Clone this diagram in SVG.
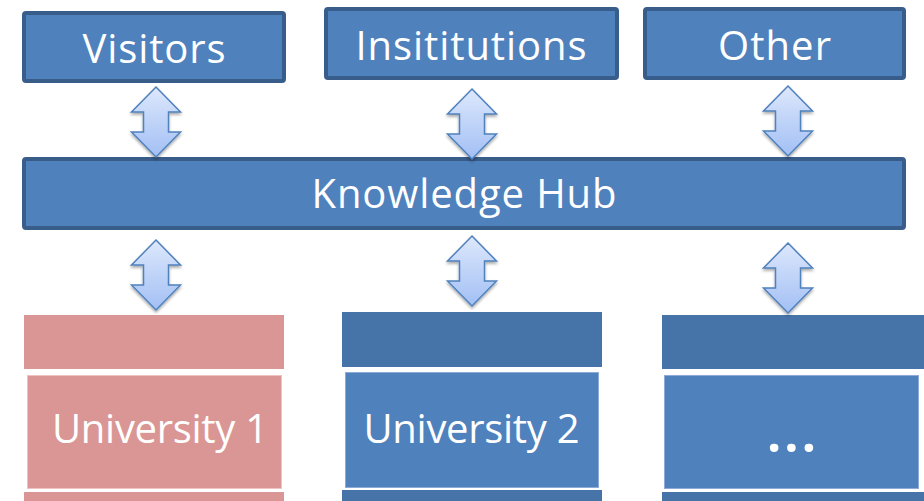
<svg xmlns="http://www.w3.org/2000/svg" width="924" height="501" viewBox="0 0 924 501">
<defs>
<style>
.top{fill:#4f81bd;stroke:#385d8a;stroke-width:4}
.lbl{font-family:"Open Sans","Noto Sans",sans-serif;font-size:40px;fill:#ffffff;text-anchor:middle}
.band{fill:#4674a9}
.mid{fill:#4f81bd;stroke:#8eaad8;stroke-width:1}
.pband{fill:#d99694}
.pmid{fill:#d99694;stroke:#eec3c2;stroke-width:1}
.arr{fill:url(#ag);stroke:#4f81bd;stroke-width:1.5;stroke-linejoin:miter;filter:url(#sh)}
</style>
<linearGradient id="ag" x1="0" y1="0" x2="0" y2="1">
<stop offset="0" stop-color="#dde8fc"/>
<stop offset="1" stop-color="#a2bff4"/>
</linearGradient>
<filter id="sh" x="-30%" y="-20%" width="160%" height="150%">
<feGaussianBlur in="SourceAlpha" stdDeviation="1.5"/>
<feOffset dx="0" dy="2" result="b"/>
<feComponentTransfer><feFuncA type="linear" slope="0.35"/></feComponentTransfer>
<feMerge><feMergeNode/><feMergeNode in="SourceGraphic"/></feMerge>
</filter>
<path id="dbl" d="M0,0 L24.5,25 L12.5,25 L12.5,45 L24.5,45 L0,70 L-24.5,45 L-12.5,45 L-12.5,25 L-24.5,25 Z"/>
</defs>
<rect width="924" height="501" fill="#ffffff"/>
<g id="visitors">
<rect class="top" x="24" y="13" width="260" height="68" rx="2"/>
<text class="lbl" x="154" y="63" textLength="143">Visitors</text>
</g>
<g id="institutions">
<rect class="top" x="326" y="9" width="291" height="69" rx="2"/>
<text class="lbl" x="471" y="60" textLength="231">Insititutions</text>
</g>
<g id="other">
<rect class="top" x="645" y="9" width="259" height="69" rx="2"/>
<text class="lbl" x="774.5" y="60" textLength="113">Other</text>
</g>
<g id="hub">
<rect class="top" x="24" y="159" width="880" height="69" rx="2"/>
<text class="lbl" x="464" y="208" textLength="305">Knowledge Hub</text>
</g>
<g id="university1">
<rect class="pband" x="24" y="315" width="260" height="54"/>
<rect class="pmid" x="27.5" y="375.5" width="254" height="113"/>
<rect class="pband" x="24" y="492" width="260" height="12"/>
<text class="lbl" x="160" y="443" textLength="216">University 1</text>
</g>
<g id="university2">
<rect class="band" x="342" y="312" width="260" height="55"/>
<rect class="mid" x="345.5" y="372.5" width="253" height="115"/>
<rect class="band" x="342" y="490" width="260" height="14"/>
<text class="lbl" x="471.5" y="443" textLength="216">University 2</text>
</g>
<g id="more">
<rect class="band" x="662" y="315" width="264" height="54"/>
<rect class="mid" x="664.5" y="375.5" width="254" height="113"/>
<rect class="band" x="662" y="492" width="264" height="12"/>
<text class="lbl" x="793" y="452" style="font-size:50px;font-weight:bold;letter-spacing:3px">...</text>
</g>
<g id="connectors">
<use href="#dbl" class="arr" x="156" y="87"/>
<use href="#dbl" class="arr" x="472" y="89"/>
<use href="#dbl" class="arr" x="788" y="86"/>
<use href="#dbl" class="arr" x="156" y="240"/>
<use href="#dbl" class="arr" x="472" y="236"/>
<use href="#dbl" class="arr" x="788" y="243"/>
</g>
</svg>
